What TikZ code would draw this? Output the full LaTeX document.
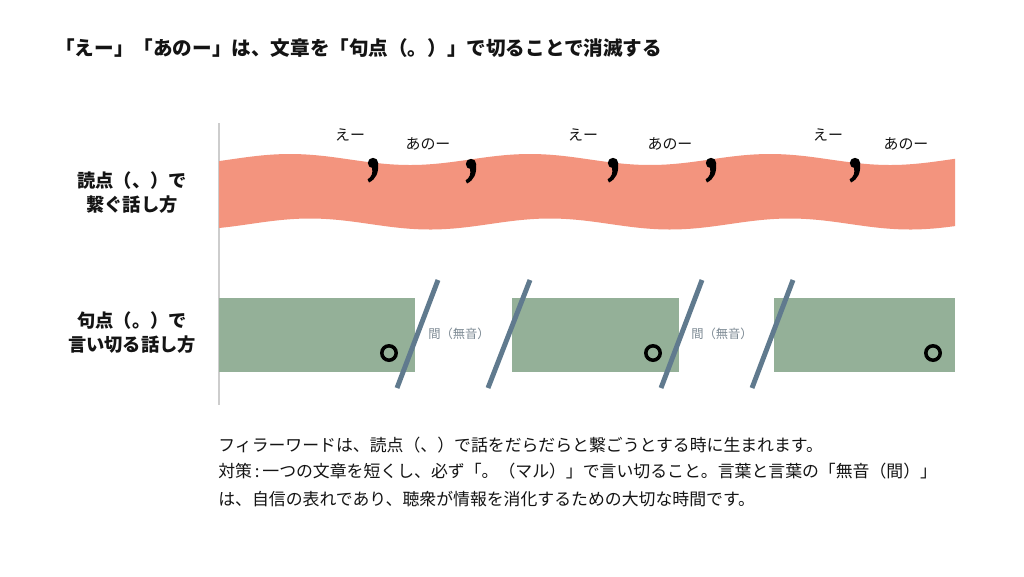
\documentclass[tikz,border=0pt]{standalone}
\usepackage{fontspec}
\newfontfamily\jp{Noto Sans CJK JP}
\definecolor{wavecol}{RGB}{243,148,126}
\definecolor{boxcol}{RGB}{148,176,152}
\definecolor{slashcol}{RGB}{96,122,142}
\definecolor{axiscol}{RGB}{205,205,205}
\definecolor{gapcol}{RGB}{125,138,148}
\definecolor{inkcol}{RGB}{20,20,20}
\tikzset{
  title/.style={anchor=west,inner sep=0pt,text=inkcol,font=\jp\bfseries\fontsize{11.15pt}{13pt}\selectfont},
  rowlabel/.style={align=center,inner sep=0pt,text=inkcol,font=\jp\bfseries\fontsize{10.4pt}{13.6pt}\selectfont},
  filler/.style={inner sep=0pt,text=inkcol,font=\jp\fontsize{8.5pt}{10pt}\selectfont},
  gaplabel/.style={inner sep=0pt,text=gapcol,font=\jp\fontsize{7pt}{9pt}\selectfont},
  body/.style={anchor=west,inner sep=0pt,text=inkcol,font=\jp\fontsize{9.6pt}{12pt}\selectfont},
  sentence/.style={fill=boxcol,draw=none},
  slash/.style={draw=slashcol,line width=2.8pt},
  ring/.style={draw=black,line width=2pt},
  comma/.pic={
    \fill[black] (0,0) circle (5.2);
    \fill[black] (5.1,0) .. controls (5.8,10) and (3,16) .. (-4,19.5) -- (-5.5,16.5) .. controls (-1,13.5) and (0,10) .. (-1,4.9) -- cycle;
  }
}
\begin{document}
\begin{tikzpicture}[x=0.02cm,y=-0.02cm]
\useasboundingbox (0,0) rectangle (1024,576);
\fill[white] (0,0) rectangle (1024,576);

% title
\node[title] (title) at (55,48) {「えー」「あのー」は、文章を「句点（。）」で切ることで消滅する};

% axis
\coordinate (axtop) at (219,123);
\coordinate (axbot) at (219,405);
\draw[axiscol,line width=0.6pt] (axtop) -- (axbot);

% wave band
\fill[wavecol] plot[smooth,domain=219:955,samples=70] (\x,{159.5-5.5*cos((\x-290)*1.5)})
  -- plot[smooth,domain=955:219,samples=70] (\x,{224-5.5*cos((\x-310)*1.5)}) -- cycle;

% commas
\pic at (373,163) {comma};
\pic at (471,164) {comma};
\pic at (613,163) {comma};
\pic at (711,163) {comma};
\pic at (855,163) {comma};

% filler words
\node[filler] (e1) at (350,135) {えー};
\node[filler] (a1) at (428,144) {あのー};
\node[filler] (e2) at (583,135) {えー};
\node[filler] (a2) at (670,144) {あのー};
\node[filler] (e3) at (828,135) {えー};
\node[filler] (a3) at (906,144) {あのー};

% row labels
\node[rowlabel] (lab1) at (132,193) {読点（、）で\\繋ぐ話し方};
\node[rowlabel] (lab2) at (132,333) {句点（。）で\\言い切る話し方};

% sentence boxes
\fill[sentence] (219,298) rectangle (415,372);
\fill[sentence] (512,298) rectangle (679,372);
\fill[sentence] (774,298) rectangle (955,372);

% end marks
\draw[ring] (389,353) circle (7.2);
\draw[ring] (653,353) circle (7.2);
\draw[ring] (933,353) circle (7.2);

% slashes
\coordinate (s1a) at (438,280); \coordinate (s1b) at (397,388);
\coordinate (s2a) at (530,280); \coordinate (s2b) at (488,388);
\coordinate (s3a) at (702,280); \coordinate (s3b) at (661,388);
\coordinate (s4a) at (793,280); \coordinate (s4b) at (752,388);
\draw[slash] (s1a) -- (s1b);
\draw[slash] (s2a) -- (s2b);
\draw[slash] (s3a) -- (s3b);
\draw[slash] (s4a) -- (s4b);

% gap labels
\node[gaplabel] (g1) at (459,334) {間（無音）};
\node[gaplabel] (g2) at (722,334) {間（無音）};

% body text
\node[body] (b1) at (218,445) {フィラーワードは、読点（、）で話をだらだらと繋ごうとする時に生まれます。};
\node[body] (b2) at (218,471) {対策\,:\,一つの文章を短くし、必ず「。（マル）」で言い切ること。言葉と言葉の「無音（間）」};
\node[body] (b3) at (218,499) {は、自信の表れであり、聴衆が情報を消化するための大切な時間です。};
\end{tikzpicture}
\end{document}
